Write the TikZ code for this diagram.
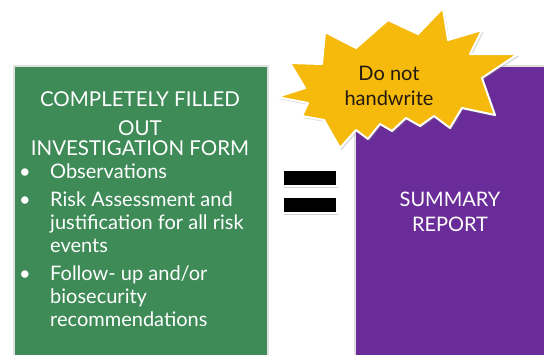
\documentclass[tikz,border=0pt]{standalone}
\usepackage{fontspec}
\setmainfont{Lato}
\usetikzlibrary{shadows}

\definecolor{formgreen}{RGB}{62,139,88}
\definecolor{reportpurple}{RGB}{106,44,152}
\definecolor{burstgold}{RGB}{245,186,12}
\definecolor{inkdark}{RGB}{35,25,15}

\tikzstyle{panel}=[draw=black!12, line width=1.5pt, fill=#1, anchor=north west, inner sep=0pt,
  drop shadow={shadow xshift=1.5pt, shadow yshift=-1.5pt, opacity=0.25}]
\tikzstyle{eqbar}=[draw=white, line width=1.5pt, fill=black, minimum width=54pt, minimum height=16pt,
  inner sep=0pt, drop shadow={shadow xshift=1pt, shadow yshift=-2pt, opacity=0.35}]
\tikzstyle{burst}=[draw=white, line width=2pt, line join=round, fill=burstgold,
  drop shadow={shadow xshift=1.5pt, shadow yshift=-2pt, opacity=0.3}]
\tikzstyle{paneltext}=[text=white, align=center, font=\fontsize{20.5}{20}\selectfont]

\begin{document}
\begin{tikzpicture}[x=1pt, y=-1pt]
	\useasboundingbox (0,0) rectangle (544,354);

	\node [panel = formgreen, minimum width=254pt, minimum height=292pt] (formbox) at (13,65) {};
	\node [panel = reportpurple, minimum width=192pt, minimum height=292pt] (reportbox) at (354,65) {};

	% the equals sign between the two panels
	\node [eqbar] (bartop) at (310,178) {};
	\node [eqbar] (barbottom) at (310,205) {};

	% burst with the warning
	\draw [burst] (277,97) -- (305,88) -- (290,63) -- (322,64) -- (325,32) -- (356,48) -- (388,20)
		-- (418,34) -- (443,8) -- (448,40) -- (482,30) -- (470,54) -- (518,54) -- (482,78)
		-- (495,115) -- (462,108) -- (450,128) -- (434,116) -- (420,126) -- (406,118) -- (392,131)
		-- (380,124) -- (368,139) -- (356,130) -- (340,148) -- (324,120) -- (302,116) -- (308,103) -- cycle;
	\node [text=inkdark, align=center, font=\fontsize{20}{25}\selectfont] (warn) at (389,86) {Do not\\handwrite};

	\node [paneltext] (formhead) at (140,124) {COMPLETELY FILLED\\[9pt]OUT\\INVESTIGATION FORM};
	\node [text=white, anchor=base west, inner sep=0pt, font=\fontsize{20}{23}\selectfont] (formlist) at (19,178)
		{\begin{tabular}[t]{@{}p{31pt}@{}l@{}}
			\textbullet & Observations\\[5pt]
			\textbullet & Risk Assessment and\\
			 & justification for all risk\\
			 & events\\[5pt]
			\textbullet & Follow- up and/or\\
			 & biosecurity\\
			 & recommendations
		\end{tabular}};

	\node [paneltext, font=\fontsize{20}{25}\selectfont] (summary) at (450,212) {SUMMARY\\REPORT};
\end{tikzpicture}
\end{document}
